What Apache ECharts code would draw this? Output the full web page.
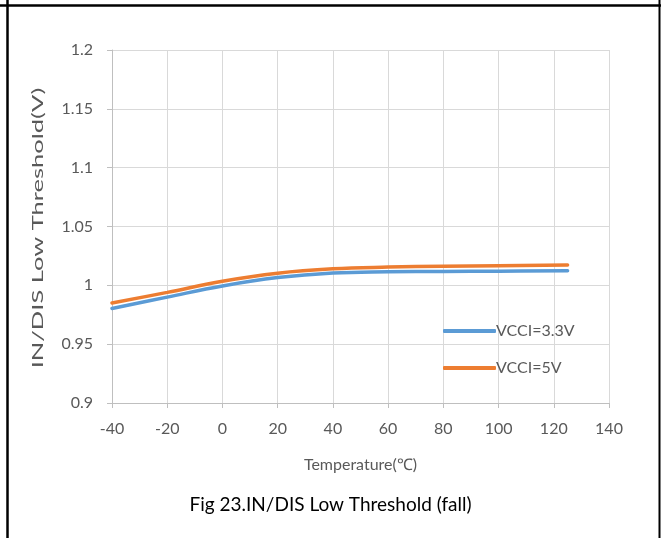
<!DOCTYPE html>
<html>
<head>
<meta charset="utf-8">
<script src="https://cdn.jsdelivr.net/npm/echarts@6/dist/echarts.min.js"></script>
<style>
html,body{margin:0;padding:0;background:#fff;}
#chart{width:661px;height:538px;}
</style>
</head>
<body>
<div id="chart"></div>
<script>
var temps = [-40, -20, 0, 20, 40, 60, 80, 100, 125];
var vcci33 = [0.9803, 0.9900, 0.9995, 1.0066, 1.0105, 1.0115, 1.0118, 1.0120, 1.0123];
var vcci5 = [0.9850, 0.9940, 1.0035, 1.0103, 1.0140, 1.0155, 1.0163, 1.0167, 1.0172];
var xTicks = [-40, -20, 0, 20, 40, 60, 80, 100, 120, 140];
var yTicks = [0.9, 0.95, 1, 1.05, 1.1, 1.15, 1.2];
var seriesNames = ['VCCI=3.3V', 'VCCI=5V'];
var yAxisTitle = 'IN/DIS Low Threshold(V)';

var FONT = 'Lato';
var chart = echarts.init(document.getElementById('chart'), null, {renderer: 'canvas'});
function pairs(xs, ys) { return xs.map(function (x, i) { return [x, ys[i]]; }); }

chart.setOption({
  animation: false,
  backgroundColor: '#ffffff',
  textStyle: {fontFamily: FONT},
  grid: {left: 112, right: 52, top: 50, bottom: 135, containLabel: false},
  xAxis: {
    type: 'value', min: -40, max: 140, interval: 20,
    name: 'Temperature(℃)', nameLocation: 'middle', nameGap: 54,
    nameTextStyle: {fontFamily: FONT, fontSize: 16, color: '#595959'},
    axisLine: {show: true, onZero: false, lineStyle: {color: '#bfbfbf', width: 1}},
    axisTick: {show: true, length: 5, lineStyle: {color: '#bfbfbf'}},
    axisLabel: {fontFamily: FONT, fontSize: 16, color: '#595959', margin: 18,
      formatter: function (v) { return xTicks.indexOf(v) >= 0 ? String(v) : ''; }},
    splitLine: {show: true, lineStyle: {color: '#d9d9d9', width: 1}}
  },
  yAxis: {
    type: 'value', min: 0.9, max: 1.2, interval: 0.05,
    axisLine: {show: true, onZero: false, lineStyle: {color: '#bfbfbf', width: 1}},
    axisTick: {show: true, length: 5, lineStyle: {color: '#bfbfbf'}},
    axisLabel: {fontFamily: FONT, fontSize: 16, color: '#595959', margin: 19,
      formatter: function (v) {
        var r = Math.round(v * 100) / 100;
        return String(r);
      }},
    splitLine: {show: true, lineStyle: {color: '#d9d9d9', width: 1}}
  },
  legend: {
    orient: 'vertical', left: 438, top: 316,
    itemWidth: 53, itemHeight: 4, itemGap: 17,
    icon: 'roundRect',
    textStyle: {fontFamily: FONT, fontSize: 16, color: '#595959', lineHeight: 20, padding: [0, 0, 0, -5]},
    data: seriesNames
  },
  title: {
    text: 'Fig 23.IN/DIS Low Threshold (fall)',
    left: 'center', top: 490,
    textStyle: {fontFamily: FONT, fontSize: 19, fontWeight: 'normal', color: '#000000'}
  },
  graphic: [
    {type: 'text', x: 38, y: 228, rotation: Math.PI / 2, scaleX: 1.7, scaleY: 1,
      style: {text: yAxisTitle, font: '15px Lato', fill: '#595959', align: 'center', verticalAlign: 'middle'}},
    {type: 'line', shape: {x1: 0, y1: 5.5, x2: 661, y2: 5.5}, style: {stroke: '#000', lineWidth: 2.5}, z: 100},
    {type: 'line', shape: {x1: 7.5, y1: 0, x2: 7.5, y2: 538}, style: {stroke: '#000', lineWidth: 2.5}, z: 100},
    {type: 'line', shape: {x1: 659.5, y1: 0, x2: 659.5, y2: 538}, style: {stroke: '#000', lineWidth: 2}, z: 100}
  ],
  series: [
    {name: seriesNames[0], type: 'line', smooth: 0.4, showSymbol: false, symbol: 'none',
      data: pairs(temps, vcci33), lineStyle: {color: '#5B9BD5', width: 3.5, cap: 'round'}, itemStyle: {color: '#5B9BD5'}},
    {name: seriesNames[1], type: 'line', smooth: 0.4, showSymbol: false, symbol: 'none',
      data: pairs(temps, vcci5), lineStyle: {color: '#ED7D31', width: 3.5, cap: 'round'}, itemStyle: {color: '#ED7D31'}}
  ]
});
</script>
</body>
</html>
